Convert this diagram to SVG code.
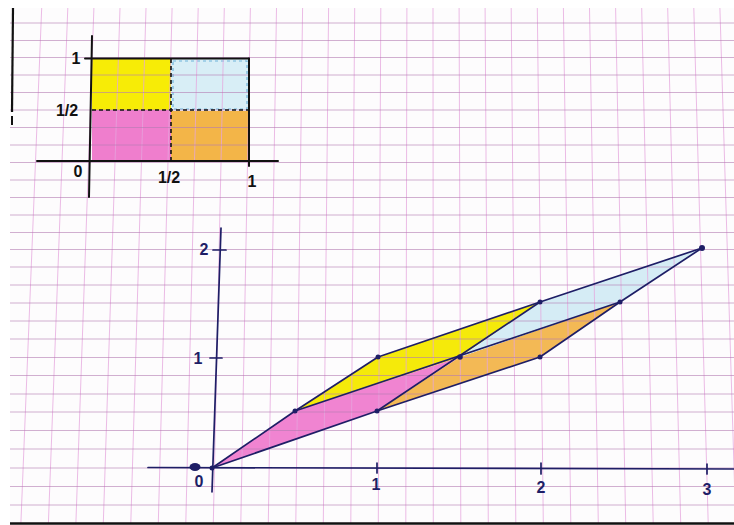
<svg xmlns="http://www.w3.org/2000/svg" width="734" height="525" viewBox="0 0 734 525">
<defs>
<style>
.vg{stroke:#e6a6de;stroke-width:1;opacity:0.75}
.hg{stroke:#b47cb3;stroke-width:1;opacity:0.6}
.ink{stroke:#111;stroke-width:2;fill:none;stroke-linecap:round}
.dash{stroke:#111;stroke-width:1.6;fill:none;stroke-dasharray:4 3}
.nv{stroke:#1e1e66;stroke-width:1.7;fill:none;stroke-linecap:round;stroke-linejoin:round}
.pt{fill:#1e1e66}
.lb{font-family:"Liberation Sans","DejaVu Sans",sans-serif;font-size:16px;font-weight:bold;text-anchor:middle}
.lk{fill:#111}
.ln{fill:#1e1e66}
</style>
</defs>
<rect x="0" y="0" width="734" height="525" fill="#ffffff"/>
<rect x="10" y="8" width="724" height="515" fill="#fdfcfd"/>

<g id="unit-square-fills">
<rect x="92" y="59" width="79" height="51" fill="#f7ec06"/>
<rect x="171" y="59" width="78" height="51" fill="#d8eef6"/>
<rect x="173" y="61" width="74" height="48" fill="none" stroke="#6fb3da" stroke-width="1.2" stroke-dasharray="3 3"/>
<rect x="92" y="110" width="79" height="51" fill="#ef7ecd"/>
<rect x="171" y="111" width="78" height="50" fill="#f3b548"/>
</g>

<g id="image-fills">
<polygon id="pink-region" points="212,468 377,411 460,357 295,411" fill="#f084d1"/>
<polygon id="yellow-region" points="295,411 460,357 540,302 378,357" fill="#f5ea0a"/>
<polygon id="orange-region" points="377,411 540,357 620,302 460,357" fill="#f3b955"/>
<polygon id="blue-region" points="460,357 620,302 702,248 540,302" fill="#d5ecf5"/>
</g>

<g id="grid">
<line class="vg" x1="41.7" y1="8" x2="20.9" y2="523"/>
<line class="vg" x1="67.8" y1="8" x2="48.4" y2="523"/>
<line class="vg" x1="93.9" y1="8" x2="75.9" y2="523"/>
<line class="vg" x1="120.0" y1="8" x2="103.3" y2="523"/>
<line class="vg" x1="146.0" y1="8" x2="130.8" y2="523"/>
<line class="vg" x1="172.1" y1="8" x2="158.3" y2="523"/>
<line class="vg" x1="198.2" y1="8" x2="185.8" y2="523"/>
<line class="vg" x1="224.3" y1="8" x2="213.3" y2="523"/>
<line class="vg" x1="250.4" y1="8" x2="240.8" y2="523"/>
<line class="vg" x1="276.5" y1="8" x2="268.3" y2="523"/>
<line class="vg" x1="302.6" y1="8" x2="295.8" y2="523"/>
<line class="vg" x1="328.6" y1="8" x2="323.3" y2="523"/>
<line class="vg" x1="354.7" y1="8" x2="350.8" y2="523"/>
<line class="vg" x1="380.8" y1="8" x2="378.3" y2="523"/>
<line class="vg" x1="406.9" y1="8" x2="405.8" y2="523"/>
<line class="vg" x1="433.0" y1="8" x2="433.3" y2="523"/>
<line class="vg" x1="459.1" y1="8" x2="460.8" y2="523"/>
<line class="vg" x1="485.1" y1="8" x2="488.3" y2="523"/>
<line class="vg" x1="511.2" y1="8" x2="515.8" y2="523"/>
<line class="vg" x1="537.3" y1="8" x2="543.3" y2="523"/>
<line class="vg" x1="563.4" y1="8" x2="570.8" y2="523"/>
<line class="vg" x1="589.5" y1="8" x2="598.3" y2="523"/>
<line class="vg" x1="615.6" y1="8" x2="625.7" y2="523"/>
<line class="vg" x1="641.7" y1="8" x2="653.2" y2="523"/>
<line class="vg" x1="667.7" y1="8" x2="680.7" y2="523"/>
<line class="vg" x1="693.8" y1="8" x2="708.2" y2="523"/>
<line class="vg" x1="719.9" y1="8" x2="735.7" y2="523"/>
<line class="hg" x1="10" y1="23" x2="734" y2="23"/>
<line class="hg" x1="10" y1="40.5" x2="734" y2="40.5"/>
<line class="hg" x1="10" y1="57.5" x2="734" y2="57.5"/>
<line class="hg" x1="10" y1="75" x2="734" y2="75"/>
<line class="hg" x1="10" y1="92.5" x2="734" y2="92.5"/>
<line class="hg" x1="10" y1="110" x2="734" y2="110"/>
<line class="hg" x1="10" y1="127.5" x2="734" y2="127.5"/>
<line class="hg" x1="10" y1="145" x2="734" y2="145"/>
<line class="hg" x1="10" y1="162.5" x2="734" y2="162.5"/>
<line class="hg" x1="10" y1="180" x2="734" y2="180"/>
<line class="hg" x1="10" y1="197.5" x2="734" y2="197.5"/>
<line class="hg" x1="10" y1="215" x2="734" y2="215"/>
<line class="hg" x1="10" y1="232.5" x2="734" y2="232.5"/>
<line class="hg" x1="10" y1="249.5" x2="734" y2="249.5"/>
<line class="hg" x1="10" y1="267" x2="734" y2="267"/>
<line class="hg" x1="10" y1="285" x2="734" y2="285"/>
<line class="hg" x1="10" y1="303" x2="734" y2="303"/>
<line class="hg" x1="10" y1="321" x2="734" y2="321"/>
<line class="hg" x1="10" y1="339" x2="734" y2="339"/>
<line class="hg" x1="10" y1="357.5" x2="734" y2="357.5"/>
<line class="hg" x1="10" y1="375.5" x2="734" y2="375.5"/>
<line class="hg" x1="10" y1="394" x2="734" y2="394"/>
<line class="hg" x1="10" y1="412" x2="734" y2="412"/>
<line class="hg" x1="10" y1="430.5" x2="734" y2="430.5"/>
<line class="hg" x1="10" y1="449" x2="734" y2="449"/>
<line class="hg" x1="10" y1="468" x2="734" y2="468"/>
<line class="hg" x1="10" y1="486.5" x2="734" y2="486.5"/>
<line class="hg" x1="10" y1="505" x2="734" y2="505"/>
</g>

<g id="paper-edges">
<line x1="13" y1="8" x2="12" y2="112" stroke="#111" stroke-width="2.2"/>
<line x1="12" y1="116" x2="12" y2="125" stroke="#111" stroke-width="2"/>
<line x1="10" y1="523.5" x2="734" y2="523.5" stroke="#111" stroke-width="2.5"/>
</g>

<g id="unit-square">
<line class="ink" x1="92" y1="36" x2="89" y2="197"/>
<line class="ink" x1="37" y1="161" x2="278" y2="161"/>
<line class="ink" x1="85" y1="58.5" x2="249" y2="58.5"/>
<line class="ink" x1="249" y1="58.5" x2="249" y2="166"/>
<line class="dash" x1="92" y1="110" x2="249" y2="110"/>
<line class="dash" x1="171" y1="59" x2="171" y2="164"/>
<text class="lb lk" x="76" y="64">1</text>
<text class="lb lk" x="67" y="116">1/2</text>
<text class="lb lk" x="78" y="177">0</text>
<text class="lb lk" x="169" y="183">1/2</text>
<text class="lb lk" x="252" y="187">1</text>
</g>

<g id="axes">
<line class="nv" x1="148" y1="467.5" x2="734" y2="469"/>
<line class="nv" x1="221" y1="228" x2="212" y2="492"/>
<line class="nv" x1="377" y1="463" x2="377" y2="473"/>
<line class="nv" x1="541" y1="463" x2="541" y2="474"/>
<line class="nv" x1="707" y1="464" x2="707" y2="474"/>
<line class="nv" x1="213" y1="250" x2="226" y2="250"/>
<line class="nv" x1="210" y1="358" x2="222" y2="358"/>
<ellipse class="pt" cx="195" cy="467" rx="5.5" ry="4"/>
<text class="lb ln" x="199" y="487">0</text>
<text class="lb ln" x="376" y="490">1</text>
<text class="lb ln" x="541" y="493">2</text>
<text class="lb ln" x="707" y="495">3</text>
<text class="lb ln" x="204" y="255">2</text>
<text class="lb ln" x="198" y="364">1</text>
</g>

<g id="connectors">
<polyline class="nv" points="212,468 295,411 378,357 540,302 702,248"/>
<polyline class="nv" points="702,248 620,302 540,357 377,411 212,468"/>
<line class="nv" x1="295" y1="411" x2="620" y2="302"/>
<line class="nv" x1="377" y1="411" x2="540" y2="302"/>
</g>

<g id="vertices">
<circle id="v-o" class="pt" cx="212" cy="468" r="2.5"/>
<circle id="v-a" class="pt" cx="295" cy="411" r="2.5"/>
<circle id="v-b" class="pt" cx="377" cy="411" r="2.5"/>
<circle id="v-c" class="pt" cx="378" cy="357" r="2.5"/>
<circle id="v-d" class="pt" cx="460" cy="357" r="2.8"/>
<circle id="v-e" class="pt" cx="540" cy="357" r="2.5"/>
<circle id="v-f" class="pt" cx="540" cy="302" r="2.5"/>
<circle id="v-g" class="pt" cx="620" cy="302" r="2.5"/>
<circle id="v-h" class="pt" cx="702" cy="248" r="3"/>
</g>
</svg>
